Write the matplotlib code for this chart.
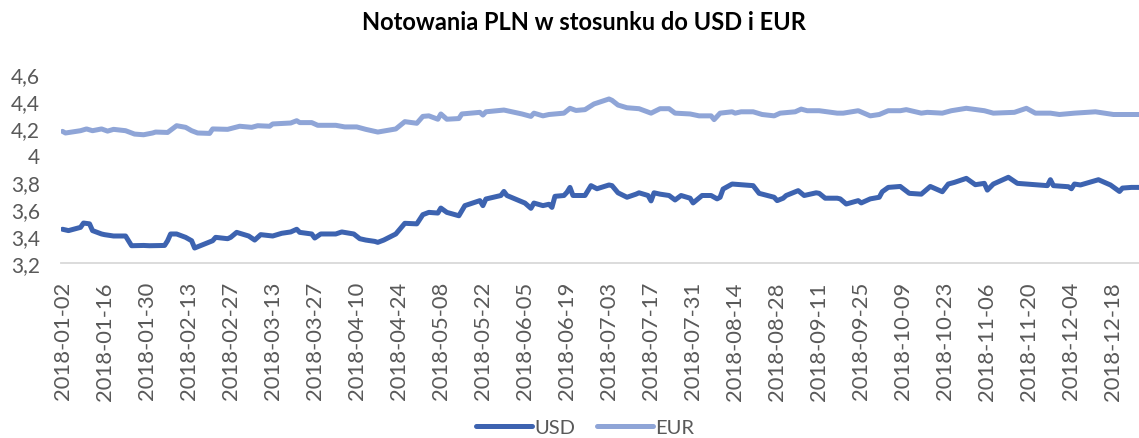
import matplotlib
matplotlib.use("Agg")
import matplotlib.pyplot as plt
import matplotlib.dates as mdates
from matplotlib.ticker import FixedLocator, FuncFormatter
import pandas as pd
import numpy as np

title = "Notowania PLN w stosunku do USD i EUR"

usd_dates = ["2018-01-02", "2018-01-04", "2018-01-08", "2018-01-09", "2018-01-11", "2018-01-12",
             "2018-01-15", "2018-01-16", "2018-01-19", "2018-01-23", "2018-01-25", "2018-01-29",
             "2018-01-31", "2018-02-05", "2018-02-06", "2018-02-07", "2018-02-09", "2018-02-12",
             "2018-02-14", "2018-02-15", "2018-02-16", "2018-02-21", "2018-02-22", "2018-02-26",
             "2018-02-27", "2018-03-01", "2018-03-05", "2018-03-07", "2018-03-09", "2018-03-13",
             "2018-03-16", "2018-03-19", "2018-03-21", "2018-03-22", "2018-03-26", "2018-03-27",
             "2018-03-29", "2018-04-03", "2018-04-05", "2018-04-09", "2018-04-11", "2018-04-13",
             "2018-04-16", "2018-04-17", "2018-04-19", "2018-04-23", "2018-04-26", "2018-04-30",
             "2018-05-02", "2018-05-04", "2018-05-07", "2018-05-08", "2018-05-10", "2018-05-14",
             "2018-05-16", "2018-05-21", "2018-05-22", "2018-05-23", "2018-05-28", "2018-05-29",
             "2018-05-30", "2018-06-05", "2018-06-07", "2018-06-08", "2018-06-11", "2018-06-13",
             "2018-06-14", "2018-06-15", "2018-06-18", "2018-06-19", "2018-06-20", "2018-06-21",
             "2018-06-25", "2018-06-27", "2018-06-29", "2018-07-03", "2018-07-04", "2018-07-06",
             "2018-07-09", "2018-07-12", "2018-07-13", "2018-07-16", "2018-07-17", "2018-07-18",
             "2018-07-20", "2018-07-23", "2018-07-25", "2018-07-27", "2018-07-30", "2018-07-31",
             "2018-08-03", "2018-08-06", "2018-08-08", "2018-08-09", "2018-08-10", "2018-08-13",
             "2018-08-16", "2018-08-17", "2018-08-20", "2018-08-22", "2018-08-27", "2018-08-28",
             "2018-08-30", "2018-08-31", "2018-09-04", "2018-09-06", "2018-09-10", "2018-09-11",
             "2018-09-13", "2018-09-17", "2018-09-18", "2018-09-20", "2018-09-24", "2018-09-25",
             "2018-09-28", "2018-10-01", "2018-10-02", "2018-10-04", "2018-10-08", "2018-10-11",
             "2018-10-15", "2018-10-18", "2018-10-22", "2018-10-24", "2018-10-26", "2018-10-30",
             "2018-11-02", "2018-11-05", "2018-11-06", "2018-11-08", "2018-11-13", "2018-11-16",
             "2018-11-19", "2018-11-26", "2018-11-27", "2018-11-28", "2018-12-03", "2018-12-04",
             "2018-12-05", "2018-12-07", "2018-12-13", "2018-12-17", "2018-12-20", "2018-12-21",
             "2018-12-24", "2018-12-27", "2018-12-31"]
usd_values = [3.450, 3.440, 3.464, 3.496, 3.490, 3.440,
              3.415, 3.410, 3.400, 3.400, 3.328, 3.330,
              3.328, 3.330, 3.365, 3.415, 3.415, 3.390,
              3.365, 3.311, 3.320, 3.365, 3.390, 3.380,
              3.390, 3.427, 3.400, 3.370, 3.410, 3.400,
              3.420, 3.430, 3.450, 3.427, 3.415, 3.385,
              3.415, 3.415, 3.430, 3.415, 3.380, 3.370,
              3.360, 3.353, 3.370, 3.415, 3.494, 3.490,
              3.558, 3.575, 3.570, 3.607, 3.575, 3.550,
              3.625, 3.662, 3.625, 3.674, 3.700, 3.730,
              3.700, 3.644, 3.605, 3.644, 3.625, 3.635,
              3.612, 3.694, 3.700, 3.724, 3.760, 3.700,
              3.700, 3.773, 3.750, 3.778, 3.773, 3.720,
              3.687, 3.710, 3.720, 3.700, 3.660, 3.720,
              3.710, 3.700, 3.667, 3.700, 3.680, 3.645,
              3.700, 3.700, 3.675, 3.687, 3.748, 3.785,
              3.780, 3.778, 3.773, 3.716, 3.687, 3.662,
              3.680, 3.700, 3.736, 3.700, 3.720, 3.716,
              3.680, 3.680, 3.675, 3.637, 3.662, 3.645,
              3.675, 3.687, 3.728, 3.760, 3.767, 3.716,
              3.710, 3.767, 3.728, 3.785, 3.797, 3.827,
              3.780, 3.790, 3.740, 3.785, 3.835, 3.790,
              3.785, 3.773, 3.817, 3.773, 3.765, 3.750,
              3.785, 3.778, 3.817, 3.778, 3.730, 3.755,
              3.760, 3.760, 3.760]

eur_dates = ["2018-01-02", "2018-01-03", "2018-01-08", "2018-01-10", "2018-01-12", "2018-01-15",
             "2018-01-17", "2018-01-19", "2018-01-23", "2018-01-26", "2018-01-29", "2018-02-01",
             "2018-02-02", "2018-02-06", "2018-02-09", "2018-02-12", "2018-02-14", "2018-02-16",
             "2018-02-20", "2018-02-21", "2018-02-26", "2018-03-02", "2018-03-06", "2018-03-08",
             "2018-03-12", "2018-03-13", "2018-03-19", "2018-03-21", "2018-03-22", "2018-03-26",
             "2018-03-28", "2018-04-03", "2018-04-06", "2018-04-10", "2018-04-13", "2018-04-17",
             "2018-04-23", "2018-04-26", "2018-04-30", "2018-05-02", "2018-05-04", "2018-05-07",
             "2018-05-08", "2018-05-10", "2018-05-14", "2018-05-15", "2018-05-21", "2018-05-22",
             "2018-05-23", "2018-05-29", "2018-06-04", "2018-06-07", "2018-06-08", "2018-06-11",
             "2018-06-13", "2018-06-18", "2018-06-20", "2018-06-22", "2018-06-25", "2018-06-28",
             "2018-07-03", "2018-07-04", "2018-07-06", "2018-07-09", "2018-07-13", "2018-07-17",
             "2018-07-20", "2018-07-23", "2018-07-25", "2018-07-30", "2018-08-02", "2018-08-06",
             "2018-08-07", "2018-08-09", "2018-08-13", "2018-08-14", "2018-08-16", "2018-08-20",
             "2018-08-23", "2018-08-27", "2018-08-29", "2018-09-03", "2018-09-05", "2018-09-07",
             "2018-09-11", "2018-09-17", "2018-09-19", "2018-09-24", "2018-09-28", "2018-10-01",
             "2018-10-04", "2018-10-08", "2018-10-10", "2018-10-15", "2018-10-17", "2018-10-22",
             "2018-10-25", "2018-10-30", "2018-11-05", "2018-11-08", "2018-11-15", "2018-11-19",
             "2018-11-22", "2018-11-27", "2018-11-30", "2018-12-05", "2018-12-12", "2018-12-18",
             "2018-12-24", "2018-12-31"]
eur_values = [4.175, 4.163, 4.180, 4.193, 4.180, 4.193,
              4.177, 4.190, 4.180, 4.155, 4.150, 4.163,
              4.170, 4.167, 4.217, 4.205, 4.180, 4.163,
              4.160, 4.193, 4.190, 4.213, 4.205, 4.217,
              4.213, 4.230, 4.237, 4.254, 4.240, 4.240,
              4.220, 4.220, 4.208, 4.208, 4.190, 4.170,
              4.193, 4.247, 4.235, 4.286, 4.290, 4.265,
              4.304, 4.265, 4.270, 4.304, 4.316, 4.296,
              4.320, 4.333, 4.304, 4.286, 4.310, 4.290,
              4.300, 4.310, 4.346, 4.330, 4.336, 4.378,
              4.415, 4.405, 4.370, 4.350, 4.343, 4.310,
              4.343, 4.343, 4.310, 4.304, 4.290, 4.290,
              4.262, 4.310, 4.320, 4.310, 4.320, 4.320,
              4.300, 4.290, 4.310, 4.320, 4.340, 4.328,
              4.328, 4.310, 4.310, 4.328, 4.290, 4.300,
              4.328, 4.328, 4.336, 4.310, 4.316, 4.310,
              4.328, 4.346, 4.328, 4.310, 4.316, 4.346,
              4.310, 4.310, 4.300, 4.310, 4.320, 4.300,
              4.300, 4.300]

y_ticks = [3.2, 3.4, 3.6, 3.8, 4.0, 4.2, 4.4, 4.6]
x_start = "2018-01-02"
x_end = "2018-12-31"
tick_step_days = 14

USD_COLOR = "#3D63B0"
EUR_COLOR = "#8FA5D7"
TEXT_COLOR = "#595959"

plt.rcParams['font.family'] = ['Lato', 'DejaVu Sans']

W, H = 1139, 439
fig = plt.figure(figsize=(W / 100, H / 100), dpi=100)
left_px, right_px, top_px, bottom_px = 61, 1154, 75, 264
ax = fig.add_axes([left_px / W, (H - bottom_px) / H, (right_px - left_px) / W, (bottom_px - top_px) / H])

ud = pd.to_datetime(usd_dates)
ed = pd.to_datetime(eur_dates)
ax.plot(ud, usd_values, color=USD_COLOR, lw=3.6, solid_joinstyle='round', solid_capstyle='round', label="USD")
ax.plot(ed, eur_values, color=EUR_COLOR, lw=3.6, solid_joinstyle='round', solid_capstyle='round', label="EUR")

x0 = pd.Timestamp(x_start)
x1 = pd.Timestamp(x_end)
ax.set_xlim(x0 - pd.Timedelta(hours=12), x1 + pd.Timedelta(hours=12))
ax.set_ylim(y_ticks[0], y_ticks[-1])

ticks = pd.date_range(x0, x1, freq=f"{tick_step_days}D")
ax.xaxis.set_major_locator(FixedLocator(mdates.date2num(ticks)))
ax.xaxis.set_major_formatter(mdates.DateFormatter("%Y-%m-%d"))
ax.set_yticks(y_ticks)

def fmt(v, pos):
    s = f"{v:.1f}"
    if s.endswith(".0"):
        s = s[:-2]
    return s.replace(".", ",")
ax.yaxis.set_major_formatter(FuncFormatter(fmt))

for s in ["top", "right", "left"]:
    ax.spines[s].set_visible(False)
ax.spines["bottom"].set_color("#D9D9D9")
ax.spines["bottom"].set_linewidth(1.3)
ax.tick_params(axis='both', length=0, labelcolor=TEXT_COLOR)
ax.tick_params(axis='y', pad=15, labelsize=15)
ax.tick_params(axis='x', pad=13, labelrotation=90, labelsize=15.8)

fig.text(584 / W, 1 - 22 / H, title, ha='center', va='center', fontsize=17, fontweight='bold', color='black')

leg = fig.legend(loc='center', bbox_to_anchor=(585 / W, 1 - 428 / H), ncol=2, frameon=False,
                 fontsize=14.5, handlelength=2.8, handletextpad=0.1, columnspacing=1.1,
                 borderpad=0.1)
for t in leg.get_texts():
    t.set_color(TEXT_COLOR)
for l in leg.get_lines():
    l.set_linewidth(3.6)

fig.savefig("out.png", dpi=100)
